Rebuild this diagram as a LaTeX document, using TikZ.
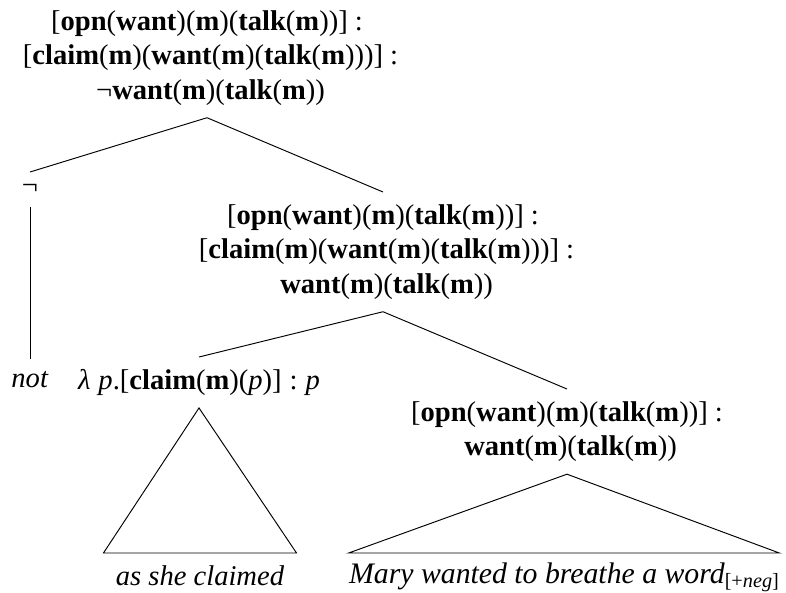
\documentclass[tikz,border=0pt]{standalone}
\usepackage{fontspec}
\setmainfont{Liberation Serif}
\usetikzlibrary{positioning}

\begin{document}
\begin{tikzpicture}[x=0.42pt,y=-0.42pt,thin]
  \tikzstyle{every node}=[align=center,anchor=north,inner sep=5pt,text=black,
                          font=\fontsize{12pt}{14.5pt}\selectfont]
  \useasboundingbox (0,0) rectangle (786,593);
  \node (R) at (207,-2)   {[\textbf{opn}(\textbf{want})(\textbf{m})(\textbf{talk}(\textbf{m}))] :\\{}
                           [\textbf{claim}(\textbf{m})(\textbf{want}(\textbf{m})(\textbf{talk}(\textbf{m})))] :\\{}
                           ¬\textbf{want}(\textbf{m})(\textbf{talk}(\textbf{m}))};
  \node (Neg) at (30,172) {¬};
  \node (C) at (383,192)  {[\textbf{opn}(\textbf{want})(\textbf{m})(\textbf{talk}(\textbf{m}))] :\\{}
                           [\textbf{claim}(\textbf{m})(\textbf{want}(\textbf{m})(\textbf{talk}(\textbf{m})))] :\\{}
                           \textbf{want}(\textbf{m})(\textbf{talk}(\textbf{m}))};
  \node (Not) at (30,359) {\textit{not}};
  \node (L) at (199,357)  {\textit{λ}\;\textit{p}.[\textbf{claim}(\textbf{m})(\textit{p})]\;:\;\textit{p}};
  \node (As) at (200,553) {\textit{as she claimed}};
  \node (O) at (567,389)  {[\textbf{opn}(\textbf{want})(\textbf{m})(\textbf{talk}(\textbf{m}))] :\\{}
                           \textbf{want}(\textbf{m})(\textbf{talk}(\textbf{m}))};
  \node[inner xsep=0pt,inner ysep=4pt,font=\fontsize{12.5pt}{15pt}\selectfont] (M) at (564,553)
       {\textit{Mary wanted to breathe a word}{\fontsize{8.5pt}{8.5pt}\selectfont\raisebox{-1.5pt}{[+\textit{neg}]}}};
  \path (R.south) edge (Neg.north);
  \path (R.south) edge (C.north);
  \path (Neg.south) edge (Not.north);
  \path (C.south) edge (L.north);
  \path (C.south) edge (O.north);
  \draw (L.south) -- (As.north west) -- (As.north east) -- cycle;
  \draw (O.south) -- (M.north west) -- (M.north east) -- cycle;
\end{tikzpicture}
\end{document}
